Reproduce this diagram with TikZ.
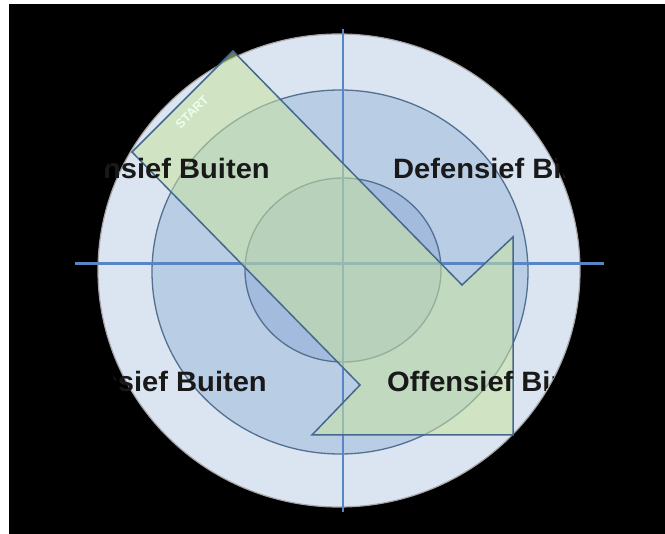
\documentclass[tikz,border=0pt]{standalone}
\usepackage{fontspec}
\newfontfamily\labfont{Liberation Sans}
\definecolor{ringout}{RGB}{219,229,241}
\definecolor{ringmid}{RGB}{185,205,229}
\definecolor{ringin}{RGB}{163,188,222}
\definecolor{ringline}{RGB}{84,112,145}
\definecolor{axisblue}{RGB}{88,134,196}
\definecolor{arrowfill}{RGB}{200,228,160}
\definecolor{arrowline}{RGB}{70,104,140}
\begin{document}
\begin{tikzpicture}[x=1pt,y=-1pt,
    quad/.style={inner sep=0pt,text=black!90,font=\labfont\bfseries\fontsize{28}{28}\selectfont}]
    \useasboundingbox (0,0) rectangle (665,534);
    \fill[white] (0,0) rectangle (665,534);
    \fill[black] (9,4) rectangle (665,534);
    % rings
    \fill[ringout] (339,270.5) ellipse (241 and 236.5);
    \draw[gray!70,line width=1.2pt] (339,270.5) ellipse (241 and 236.5);
    \filldraw[fill=ringmid,draw=ringline,line width=1.3pt] (340,272) ellipse (188 and 182);
    \filldraw[fill=ringin,draw=ringline,line width=1.3pt] (343,270) ellipse (98 and 92);
    % axes
    \draw[axisblue,line width=3pt] (75,264) -- (604,264);
    \draw[axisblue,line width=2pt] (343,29) -- (343,512);
    % arrow
    \filldraw[fill=arrowfill,fill opacity=.55,draw=arrowline,line width=1.5pt,line join=miter]
        (233,51) -- (462,285) -- (513,237) -- (513,435) -- (312,435) -- (360,385) -- (132,152) -- cycle;
    \node[white!92!green,rotate=45,font=\labfont\bfseries\fontsize{12.5}{12.5}\selectfont] (start) at (192,112) {START};
    % labels, cut off at the rim
    \begin{scope}
        \clip (333,265) ellipse (250 and 236);
        \node[quad,anchor=base east] (db) at (270,179) {\scalebox{1.04}[1]{Defensief Buiten}};
        \node[quad,anchor=base west] (dn) at (393,179) {\scalebox{1.04}[1]{Defensief Binnen}};
        \node[quad,anchor=base east] (ob) at (267,392) {\scalebox{1.04}[1]{Offensief Buiten}};
        \node[quad,anchor=base west] (on) at (387,392) {\scalebox{1.04}[1]{Offensief Binnen}};
    \end{scope}
\end{tikzpicture}
\end{document}
